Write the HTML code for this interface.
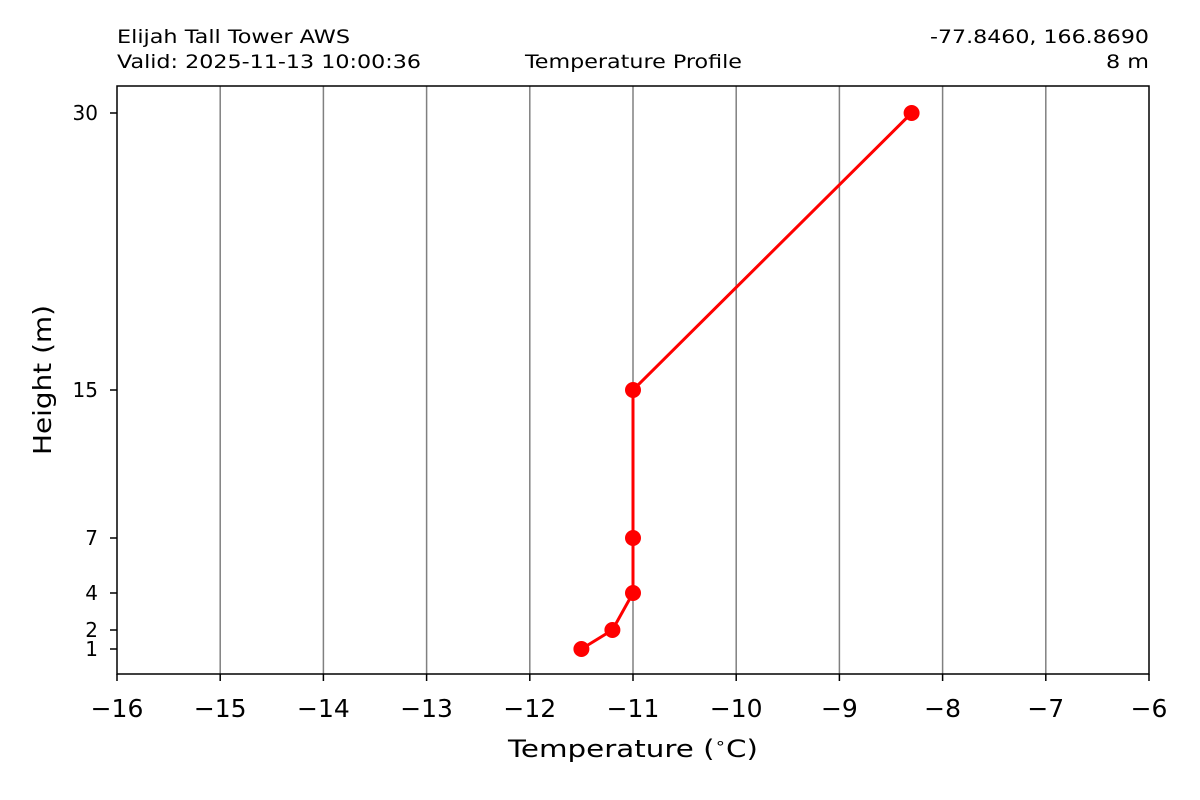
<!DOCTYPE html>
<html><head><meta charset="utf-8"><style>body{margin:0;background:#fff}svg{display:block}text{font-family:"DejaVu Sans","Liberation Sans",sans-serif;fill:#000}</style></head>
<body>
<svg width="1200" height="800" viewBox="0 0 1200 800" xmlns="http://www.w3.org/2000/svg">
<rect width="1200" height="800" fill="#fff"/>
<g stroke="#808080" stroke-width="1.5">
<line x1="220.2" y1="86" x2="220.2" y2="674"/><line x1="323.4" y1="86" x2="323.4" y2="674"/>
<line x1="426.6" y1="86" x2="426.6" y2="674"/><line x1="529.8" y1="86" x2="529.8" y2="674"/>
<line x1="633" y1="86" x2="633" y2="674"/><line x1="736.2" y1="86" x2="736.2" y2="674"/>
<line x1="839.4" y1="86" x2="839.4" y2="674"/><line x1="942.6" y1="86" x2="942.6" y2="674"/>
<line x1="1045.8" y1="86" x2="1045.8" y2="674"/>
</g>
<polyline points="581.4,649 612.4,630 633,593 633,538 633,390 911.6,113" fill="none" stroke="#f00" stroke-width="3"/>
<g fill="#f00"><circle cx="581.4" cy="649" r="8"/><circle cx="612.4" cy="630" r="8"/><circle cx="633" cy="593" r="8"/><circle cx="633" cy="538" r="8"/><circle cx="633" cy="390" r="8"/><circle cx="911.6" cy="113" r="8"/></g>
<rect x="117" y="86" width="1032" height="588" fill="none" stroke="#000" stroke-width="1.5"/>
<g stroke="#000" stroke-width="1.5">
<line x1="117" y1="674" x2="117" y2="681"/><line x1="220.2" y1="674" x2="220.2" y2="681"/><line x1="323.4" y1="674" x2="323.4" y2="681"/><line x1="426.6" y1="674" x2="426.6" y2="681"/><line x1="529.8" y1="674" x2="529.8" y2="681"/><line x1="633" y1="674" x2="633" y2="681"/><line x1="736.2" y1="674" x2="736.2" y2="681"/><line x1="839.4" y1="674" x2="839.4" y2="681"/><line x1="942.6" y1="674" x2="942.6" y2="681"/><line x1="1045.8" y1="674" x2="1045.8" y2="681"/><line x1="1149" y1="674" x2="1149" y2="681"/>
<line x1="110" y1="113" x2="117" y2="113"/><line x1="110" y1="390" x2="117" y2="390"/><line x1="110" y1="538" x2="117" y2="538"/><line x1="110" y1="593" x2="117" y2="593"/><line x1="110" y1="630" x2="117" y2="630"/><line x1="110" y1="649" x2="117" y2="649"/>
</g>
<g font-size="25" text-anchor="middle">
<text x="117" y="717">−16</text><text x="220.2" y="717">−15</text><text x="323.4" y="717">−14</text><text x="426.6" y="717">−13</text><text x="529.8" y="717">−12</text><text x="633" y="717">−11</text><text x="736.2" y="717">−10</text><text x="839.4" y="717">−9</text><text x="942.6" y="717">−8</text><text x="1045.8" y="717">−7</text><text x="1149" y="717">−6</text>
</g>
<g font-size="20" text-anchor="end">
<text x="98" y="120">30</text><text x="98" y="397">15</text><text x="98" y="545">7</text><text x="98" y="600">4</text><text x="98" y="637">2</text><text x="98" y="656">1</text>
</g>
<text x="508" y="757" font-size="24" textLength="250" lengthAdjust="spacingAndGlyphs">Temperature (<tspan font-size="15" dy="-9">∘</tspan><tspan dy="9">C)</tspan></text>
<text transform="translate(51,380) rotate(-90)" font-size="25" text-anchor="middle" textLength="150" lengthAdjust="spacingAndGlyphs">Height (m)</text>
<g font-size="19">
<text x="117" y="43" textLength="233" lengthAdjust="spacingAndGlyphs">Elijah Tall Tower AWS</text>
<text x="117" y="68" textLength="304" lengthAdjust="spacingAndGlyphs">Valid: 2025-11-13 10:00:36</text>
<text x="525" y="68" textLength="217" lengthAdjust="spacingAndGlyphs">Temperature Profile</text>
<text x="930" y="43" textLength="219" lengthAdjust="spacingAndGlyphs">-77.8460, 166.8690</text>
<text x="1106" y="68" textLength="43" lengthAdjust="spacingAndGlyphs">8 m</text>
</g>
</svg>
</body></html>
